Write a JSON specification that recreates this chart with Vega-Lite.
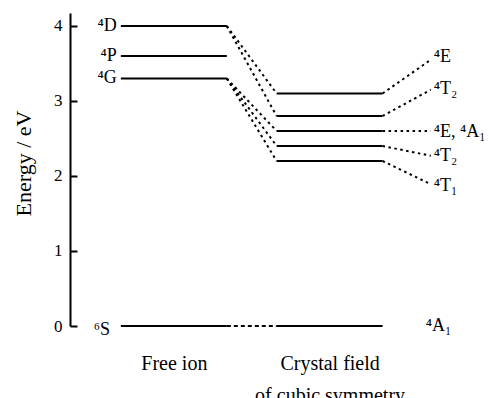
{
  "$schema": "https://vega.github.io/schema/vega-lite/v6.json",
  "width": 400,
  "height": 313,
  "autosize": {"type": "none"},
  "padding": {"left": 70, "top": 13, "right": 19, "bottom": 72},
  "config": {"view": {"stroke": null}, "font": "Liberation Serif"},
  "datasets": {
    "levels": [
      {"column": "Free ion", "term": "4D", "energy": 4.0, "x1": 0, "x2": 2},
      {"column": "Free ion", "term": "4P", "energy": 3.6, "x1": 0, "x2": 2},
      {"column": "Free ion", "term": "4G", "energy": 3.3, "x1": 0, "x2": 2},
      {"column": "Free ion", "term": "6S", "energy": 0.0, "x1": 0, "x2": 2},
      {"column": "Crystal", "term": "a", "energy": 3.1, "x1": 2.94, "x2": 4.94},
      {"column": "Crystal", "term": "b", "energy": 2.8, "x1": 2.94, "x2": 4.94},
      {"column": "Crystal", "term": "c", "energy": 2.6, "x1": 2.94, "x2": 4.94},
      {"column": "Crystal", "term": "d", "energy": 2.4, "x1": 2.94, "x2": 4.94},
      {"column": "Crystal", "term": "e", "energy": 2.2, "x1": 2.94, "x2": 4.94},
      {"column": "Crystal", "term": "f", "energy": 0.0, "x1": 2.94, "x2": 4.94}
    ],
    "links": [
      {"x1": 2, "e1": 4.0, "x2": 2.94, "e2": 3.1},
      {"x1": 2, "e1": 4.0, "x2": 2.94, "e2": 2.8},
      {"x1": 2, "e1": 3.3, "x2": 2.94, "e2": 2.6},
      {"x1": 2, "e1": 3.3, "x2": 2.94, "e2": 2.4},
      {"x1": 2, "e1": 3.3, "x2": 2.94, "e2": 2.2},
      {"x1": 4.94, "e1": 3.1, "x2": 5.85, "e2": 3.55},
      {"x1": 4.94, "e1": 2.8, "x2": 5.85, "e2": 3.15},
      {"x1": 4.94, "e1": 2.6, "x2": 5.85, "e2": 2.6},
      {"x1": 4.94, "e1": 2.4, "x2": 5.85, "e2": 2.27},
      {"x1": 4.94, "e1": 2.2, "x2": 5.85, "e2": 1.89}
    ],
    "ground": [
      {"x1": 2, "e1": 0, "x2": 2.94, "e2": 0}
    ],
    "leftLabels": [
      {"label": "⁴D", "x": 0, "energy": 4.0},
      {"label": "⁴P", "x": 0, "energy": 3.6},
      {"label": "⁴G", "x": 0, "energy": 3.3},
      {"label": "⁶S", "x": -0.13, "energy": -0.05}
    ],
    "rightLabels": [
      {"label": "⁴E", "x": 5.85, "energy": 3.59},
      {"label": "⁴T₂", "x": 5.85, "energy": 3.16},
      {"label": "⁴E, ⁴A₁", "x": 5.85, "energy": 2.59},
      {"label": "⁴T₂", "x": 5.85, "energy": 2.27},
      {"label": "⁴T₁", "x": 5.85, "energy": 1.87},
      {"label": "⁴A₁", "x": 5.70, "energy": 0.0}
    ]
  },
  "layer": [
    {
      "data": {"name": "levels"},
      "mark": {"type": "rule", "strokeWidth": 2, "color": "black"},
      "encoding": {
        "x": {
          "field": "x1", "type": "quantitative",
          "scale": {"domain": [-0.96, 6.59], "nice": false, "zero": false},
          "axis": {
            "values": [1, 3.94],
            "domain": false, "ticks": false, "grid": false, "title": null,
            "labelExpr": "datum.value < 2 ? 'Free ion' : ['Crystal field', 'of cubic symmetry']",
            "labelFont": "Liberation Serif", "labelFontSize": 20, "labelColor": "black",
            "labelPadding": 27, "labelLineHeight": 32, "labelAlign": "center", "labelBaseline": "top"
          }
        },
        "x2": {"field": "x2"},
        "y": {
          "field": "energy", "type": "quantitative",
          "scale": {"domain": [0, 4.173], "nice": false, "zero": false},
          "axis": {
            "values": [0, 0.5, 1, 1.5, 2, 2.5, 3, 3.5, 4],
            "labelExpr": "datum.value % 1 === 0 ? format(datum.value, 'd') : ''",
            "grid": false,
            "domainColor": "black", "domainWidth": 2,
            "ticks": true, "tickColor": "black", "tickWidth": 2, "tickSize": -7,
            "labelFont": "Liberation Serif", "labelFontSize": 17, "labelColor": "black",
            "labelPadding": 15,
            "title": "Energy / eV",
            "titleFont": "Liberation Serif", "titleFontSize": 22, "titleFontWeight": "normal", "titleColor": "black",
            "titleX": -47, "titleY": 150, "titleAngle": -90, "titleAlign": "center", "titleBaseline": "middle"
          }
        }
      }
    },
    {
      "data": {"name": "links"},
      "mark": {"type": "rule", "strokeWidth": 2, "color": "black", "strokeDash": [2.5, 3.5]},
      "encoding": {
        "x": {"field": "x1", "type": "quantitative", "scale": {"domain": [-0.96, 6.59], "nice": false, "zero": false}},
        "x2": {"field": "x2"},
        "y": {"field": "e1", "type": "quantitative", "scale": {"domain": [0, 4.173], "nice": false, "zero": false}},
        "y2": {"field": "e2"}
      }
    },
    {
      "data": {"name": "ground"},
      "mark": {"type": "rule", "strokeWidth": 2, "color": "black", "strokeDash": [4, 3]},
      "encoding": {
        "x": {"field": "x1", "type": "quantitative", "scale": {"domain": [-0.96, 6.59], "nice": false, "zero": false}},
        "x2": {"field": "x2"},
        "y": {"field": "e1", "type": "quantitative", "scale": {"domain": [0, 4.173], "nice": false, "zero": false}},
        "y2": {"field": "e2"}
      }
    },
    {
      "data": {"name": "leftLabels"},
      "mark": {"type": "text", "align": "right", "baseline": "middle", "dx": -4, "fontSize": 18, "font": "Liberation Serif", "color": "black"},
      "encoding": {
        "x": {"field": "x", "type": "quantitative", "scale": {"domain": [-0.96, 6.59], "nice": false, "zero": false}},
        "y": {"field": "energy", "type": "quantitative", "scale": {"domain": [0, 4.173], "nice": false, "zero": false}},
        "text": {"field": "label"}
      }
    },
    {
      "data": {"name": "rightLabels"},
      "mark": {"type": "text", "align": "left", "baseline": "middle", "dx": 3, "fontSize": 18, "font": "Liberation Serif", "color": "black"},
      "encoding": {
        "x": {"field": "x", "type": "quantitative", "scale": {"domain": [-0.96, 6.59], "nice": false, "zero": false}},
        "y": {"field": "energy", "type": "quantitative", "scale": {"domain": [0, 4.173], "nice": false, "zero": false}},
        "text": {"field": "label"}
      }
    }
  ]
}
